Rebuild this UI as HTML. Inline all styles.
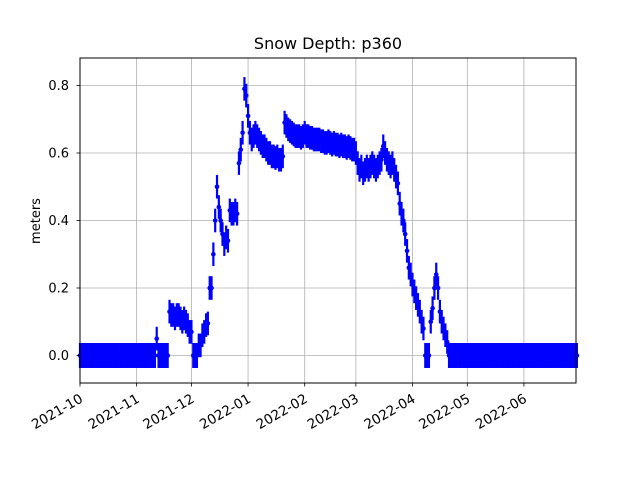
<!DOCTYPE html>
<html><head><meta charset="utf-8"><style>
html,body{margin:0;padding:0;background:#fff}
svg{display:block;font-family:"DejaVu Sans","Liberation Sans",sans-serif}
</style></head><body>
<svg id="chart" width="640" height="480" viewBox="0 0 640 480" xmlns="http://www.w3.org/2000/svg">
<rect width="640" height="480" fill="#fff"/>
<text x="328" y="49" font-size="16" text-anchor="middle">Snow Depth: p360</text>
<text transform="translate(40,221) rotate(-90)" font-size="13" text-anchor="middle">meters</text>
<g id="grid"></g>
<g id="series"></g>
<rect x="80" y="58" width="496" height="325" fill="none" stroke="#000" stroke-width="1"/>
<g id="axes"></g>
</svg>
<script>
const startDate = "2021-10-01";
const yTicks = [0.0, 0.2, 0.4, 0.6, 0.8];
const yTickLabels = ["0.0", "0.2", "0.4", "0.6", "0.8"];
const xTickDays = [0, 31, 61, 92, 123, 151, 182, 212, 243];
const xTickLabels = ["2021-10","2021-11","2021-12","2022-01","2022-02","2022-03","2022-04","2022-05","2022-06"];
const errZero = 0.037;
const errSnow = 0.035;
const depths = [
0,0,0,0,0,0,0,0,0,0,
0,0,0,0,0,0,0,0,0,0,
0,0,0,0,0,0,0,0,0,0,
0,0,0,0,0,0,0,0,0,0,
0,0,0.05,0,0,0,0,0,0,0.13,
0.12,0.12,0.11,0.12,0.12,0.11,0.10,0.11,0.10,0.09,
0.07,0.07,0,0,0,0.03,0.03,0.06,0.07,0.09,
0.095,0.2,0.2,0.3,0.40,0.5,0.44,0.40,0.36,0.33,
0.35,0.34,0.43,0.42,0.42,0.43,0.42,0.57,0.61,0.66,
0.79,0.77,0.71,0.66,0.64,0.65,0.66,0.65,0.64,0.63,
0.62,0.62,0.61,0.60,0.60,0.59,0.59,0.585,0.59,0.58,
0.58,0.59,0.69,0.68,0.67,0.665,0.66,0.655,0.65,0.65,
0.65,0.645,0.65,0.66,0.65,0.65,0.645,0.645,0.64,0.64,
0.64,0.64,0.635,0.635,0.63,0.63,0.635,0.63,0.625,0.63,
0.625,0.625,0.62,0.625,0.62,0.62,0.615,0.62,0.615,0.61,
0.61,0.6,0.57,0.55,0.56,0.54,0.55,0.56,0.55,0.56,
0.57,0.56,0.55,0.56,0.57,0.58,0.62,0.60,0.58,0.57,
0.56,0.57,0.55,0.53,0.51,0.45,0.42,0.40,0.36,0.31,
0.26,0.24,0.21,0.19,0.17,0.15,0.13,0.10,0.08,0,
0,0,0.10,0.14,0.2,0.24,0.2,0.13,0.1,0.08,
0.06,0.04,0,0,0,0,0,0,0,0,
0,0,0,0,0,0,0,0,0,0,
0,0,0,0,0,0,0,0,0,0,
0,0,0,0,0,0,0,0,0,0,
0,0,0,0,0,0,0,0,0,0,
0,0,0,0,0,0,0,0,0,0,
0,0,0,0,0,0,0,0,0,0,
0,0,0
];
const NS = "http://www.w3.org/2000/svg";
const X0 = 80, X1 = 576, Y0 = 58, Y1 = 383;
const dayMin = 0, dayMax = 271.5;
const yMin = -0.0815, yMax = 0.8815;
function xs(d){ return X0 + (d - dayMin) / (dayMax - dayMin) * (X1 - X0); }
function ys(v){ return Y1 - (v - yMin) / (yMax - yMin) * (Y1 - Y0); }
function mk(tag, attrs, parent){
  const e = document.createElementNS(NS, tag);
  for (const k in attrs) e.setAttribute(k, attrs[k]);
  parent.appendChild(e);
  return e;
}
const grid = document.getElementById("grid");
const axes = document.getElementById("axes");
const series = document.getElementById("series");
yTicks.forEach((v, i) => {
  const y = ys(v);
  const g = mk("line", {x1:X0, x2:X1, y1:y, y2:y, stroke:"#b0b0b0", "stroke-width":0.8}, grid);
  
  
  const t = mk("line", {x1:X0-3.5, x2:X0, y1:y, y2:y, stroke:"#000", "stroke-width":0.8}, axes);
  
  
  const l = mk("text", {x:X0-11, y:y+4.7, "font-size":13, "text-anchor":"end"}, axes);
  l.textContent = yTickLabels[i];
  
  
});
xTickDays.forEach((d, i) => {
  const x = xs(d);
  const g = mk("line", {x1:x, x2:x, y1:Y0, y2:Y1, stroke:"#b0b0b0", "stroke-width":0.8}, grid);
  
  
  const t = mk("line", {x1:x, x2:x, y1:Y1, y2:Y1+3.5, stroke:"#000", "stroke-width":0.8}, axes);
  
  
  const l = mk("text", {transform:`translate(${x-1},${Y1+10}) rotate(-30)`, "font-size":13.5, "text-anchor":"end", "dominant-baseline":"hanging"}, axes);
  l.textContent = xTickLabels[i];
  
  
});
depths.forEach((v, d) => {
  const x = xs(d);
  const err = v === 0 ? errZero : errSnow;
  const b = mk("line", {x1:x, x2:x, y1:ys(v-err), y2:ys(v+err), stroke:"#0000ff", "stroke-width":2.2}, series);
  
  
});
depths.forEach((v, d) => {
  const p = mk("circle", {cx:xs(d), cy:ys(v), r:2.3, fill:"#0000ff"}, series);
  
  
});
</script>
</body></html>
